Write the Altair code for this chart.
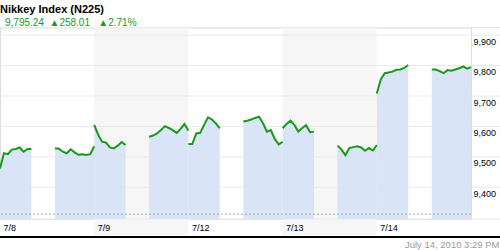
import json
import altair as alt
import pandas as pd

# ---- data -------------------------------------------------------------
days = ["7/8", "7/9", "7/12", "7/13", "7/14"]
shaded_days = ["7/9", "7/13"]
am_times = ["9:00", "9:15", "9:30", "9:45", "10:00", "10:15", "10:30", "10:45", "11:00"]
pm_times = ["12:30", "12:45", "13:00", "13:15", "13:30", "13:45", "14:00",
            "14:15", "14:30", "14:45", "15:00"]

am_0708 = [9462, 9512, 9509, 9524, 9526, 9531, 9517, 9526, 9526]
pm_0708 = [9528, 9527, 9517, 9512, 9525, 9515, 9507, 9509, 9506, 9509, 9535]
am_0709 = [9605, 9573, 9550, 9547, 9531, 9528, 9537, 9549, 9539]
pm_0709 = [9566, 9570, 9577, 9588, 9601, 9595, 9588, 9579, 9592, 9608, 9587]
am_0712 = [9542, 9542, 9577, 9579, 9605, 9630, 9623, 9610, 9594]
pm_0712 = [9616, 9619, 9623, 9628, 9632, 9611, 9583, 9588, 9559, 9541, 9549]
am_0713 = [9594, 9608, 9619, 9605, 9583, 9595, 9604, 9581, 9583]
pm_0713 = [9537, 9524, 9506, 9529, 9532, 9535, 9531, 9520, 9529, 9521, 9539]
am_0714 = [9708, 9754, 9775, 9777, 9780, 9786, 9787, 9792, 9802]
pm_0714 = [9787, 9787, 9782, 9775, 9785, 9783, 9787, 9791, 9797, 9790, 9795]

am_values = [am_0708, am_0709, am_0712, am_0713, am_0714]
pm_values = [pm_0708, pm_0709, pm_0712, pm_0713, pm_0714]

y_ticks = [9400, 9500, 9600, 9700, 9800, 9900]
y_domain = [9296, 9925]
ref_level = [9312]

title_text = "Nikkey Index (N225)"
quote_text = "\u200b\u20029,795.24\u00a0\u00a0\u25b2258.01\u00a0\u00a0\u00a0\u25b22.71%"
stamp_text = "July 14, 2010 3:29 PM"

SESSION_START = 9.0      # trading day shown from 9:00 to 15:00
DAY_SPAN = 6.0


def hours(t):
    h, m = t.split(":")
    return int(h) + int(m) / 60.0


rows = []
for i, d in enumerate(days):
    for sess, times, vals in (("am", am_times, am_values[i]), ("pm", pm_times, pm_values[i])):
        for t, v in zip(times, vals):
            rows.append({"t": i * DAY_SPAN + hours(t) - SESSION_START,
                         "value": v, "seg": f"{d} {sess}"})
df = pd.DataFrame(rows)

shade_df = pd.DataFrame({
    "t0": [days.index(d) * DAY_SPAN for d in shaded_days],
    "t1": [days.index(d) * DAY_SPAN + DAY_SPAN for d in shaded_days],
})
grid_df = pd.DataFrame({"value": y_ticks + y_domain})
ref_df = pd.DataFrame({"value": ref_level})
one_df = pd.DataFrame({"a": [0]})

# ---- style ------------------------------------------------------------
W, H = 471, 191.5
FONT = "Liberation Sans"
GREEN = "#179a17"
FILL = "#d9e5f7"
SHADE = "#f6f6f6"
GRID = "#e9e9e9"

x_scale = alt.Scale(domain=[0, len(days) * DAY_SPAN], nice=False, zero=False)
y_scale = alt.Scale(domain=y_domain, nice=False, zero=False)

label_expr = json.dumps(days) + "[round(datum.value / 6)]"

x_axis = alt.Axis(
    values=[i * DAY_SPAN for i in range(len(days))],
    labelExpr=label_expr, labelAlign="left", labelOffset=3, labelPadding=4,
    labelBaseline="top", labelFontSize=9, labelColor="#000", labelFont=FONT,
    labelFlush=False, labelOverlap=False, ticks=False, domain=False, grid=False,
    title=stamp_text, titleX=499, titleY=25, titleAlign="right", titleAnchor="end",
    titleBaseline="middle", titleFontWeight="normal", titleFontSize=9.5,
    titleColor="#999999", titleFont=FONT, zindex=1,
)
y_axis = alt.Axis(
    orient="right", values=y_ticks, labelExpr="format(datum.value, ',')",
    labelFontSize=9, labelColor="#000",
    labelFont=FONT, labelPadding=2, labelBaseline="top", labelOffset=2,
    ticks=False, domain=False, grid=False, title=None, zindex=1,
)

x_enc = alt.X("t:Q", scale=x_scale, axis=x_axis)
y_enc = alt.Y("value:Q", scale=y_scale, axis=y_axis, stack=False)

shade = alt.Chart(shade_df).mark_rect(color=SHADE).encode(
    x=alt.X("t0:Q", scale=x_scale, axis=x_axis), x2="t1:Q",
    y=alt.value(0), y2=alt.value(H + 16.5),
)
grid = alt.Chart(grid_df).mark_rule(color=GRID, strokeWidth=1).encode(
    y=alt.Y("value:Q", scale=y_scale, axis=y_axis),
    x=alt.value(0), x2=alt.value(500),
)
area = alt.Chart(df).mark_area(color=FILL, opacity=1).encode(
    x=x_enc, y=y_enc, detail="seg:N",
)
ref = alt.Chart(ref_df).mark_rule(color="#aaaaaa", strokeWidth=1, strokeDash=[2, 2]).encode(
    y=alt.Y("value:Q", scale=y_scale, axis=y_axis),
)
line = alt.Chart(df).mark_line(color=GREEN, strokeWidth=2).encode(
    x=x_enc, y=alt.Y("value:Q", scale=y_scale, axis=y_axis), detail="seg:N",
)
bottom = alt.Chart(one_df).mark_rule(color="#000", strokeWidth=2).encode(
    x=alt.value(0), x2=alt.value(500), y=alt.value(H + 18),
)

chart = alt.layer(shade, grid, area, ref, line, bottom).properties(
    width=W, height=H,
    autosize=alt.AutoSizeParams(type="none"),
    padding={"left": 0, "top": 27.5, "right": 29, "bottom": 31},
    title=alt.TitleParams(
        text=title_text, subtitle=quote_text, anchor="start", frame="group",
        font=FONT, fontSize=11, fontWeight="bold", color="#000",
        subtitleFont=FONT, subtitleFontSize=10, subtitleColor=GREEN,
        subtitlePadding=3, offset=-1,
    ),
).configure_view(stroke=None).configure(font=FONT, background="white")

chart.save("out.html", embed_options={"renderer": "svg", "actions": False})
